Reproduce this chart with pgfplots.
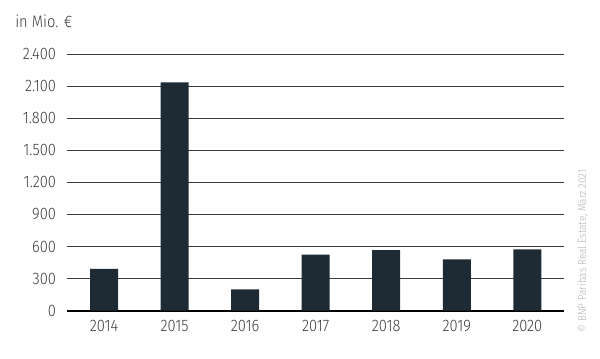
\documentclass[border=0pt]{standalone}
\usepackage{fontspec}
\setmainfont{Fira Sans Light}[FakeStretch=0.88]
\usepackage{pgfplots}
\pgfplotsset{compat=1.18}
\definecolor{barc}{HTML}{1E2A34}
\definecolor{txt}{HTML}{3C3C3C}
\definecolor{gridc}{HTML}{3A3A3A}
\begin{document}
\begin{tikzpicture}[x=1pt,y=1pt]
\path[use as bounding box] (-50.5,-35.5) rectangle (399.5,233);
\begin{axis}[
  at={(0,0)}, anchor=south west,
  scale only axis,
  width=372.5pt, height=192.5pt,
  xmin=-0.52, xmax=6.52,
  ymin=0, ymax=2400,
  axis line style={draw=none},
  major tick length=0pt,
  xtick={0,1,2,3,4,5,6},
  xticklabels={2014,2015,2016,2017,2018,2019,2020},
  ytick={300,600,...,2400},
  extra y ticks={0},
  extra y tick style={grid style={black, line width=1.5pt}},
  ymajorgrids,
  grid style={gridc, line width=0.75pt},
  /pgf/number format/.cd, 1000 sep={.}, assume math mode=true,
  /pgfplots/.cd,
  tick label style={font=\fontsize{12.5}{14}\selectfont, text=txt},
  yticklabel style={xshift=-5pt},
  xticklabel style={yshift=-4pt},
  clip=false,
]
\addplot[ybar, bar width=21pt, fill=barc, draw=none] coordinates {
  (0,390) (1,2135) (2,200) (3,525) (4,565) (5,480) (6,572)
};
\end{axis}
\node[anchor=base west, text=txt, font=\fontsize{12.5}{14}\selectfont, inner sep=0pt] at (-39.25,212.2) {in Mio. €};
\node[anchor=west, rotate=90, text=black!30, font=\fontsize{8.5}{10}\selectfont, inner sep=0pt] at (386.5,-16.7) {© BNP Paribas Real Estate, März 2021};
\end{tikzpicture}
\end{document}
